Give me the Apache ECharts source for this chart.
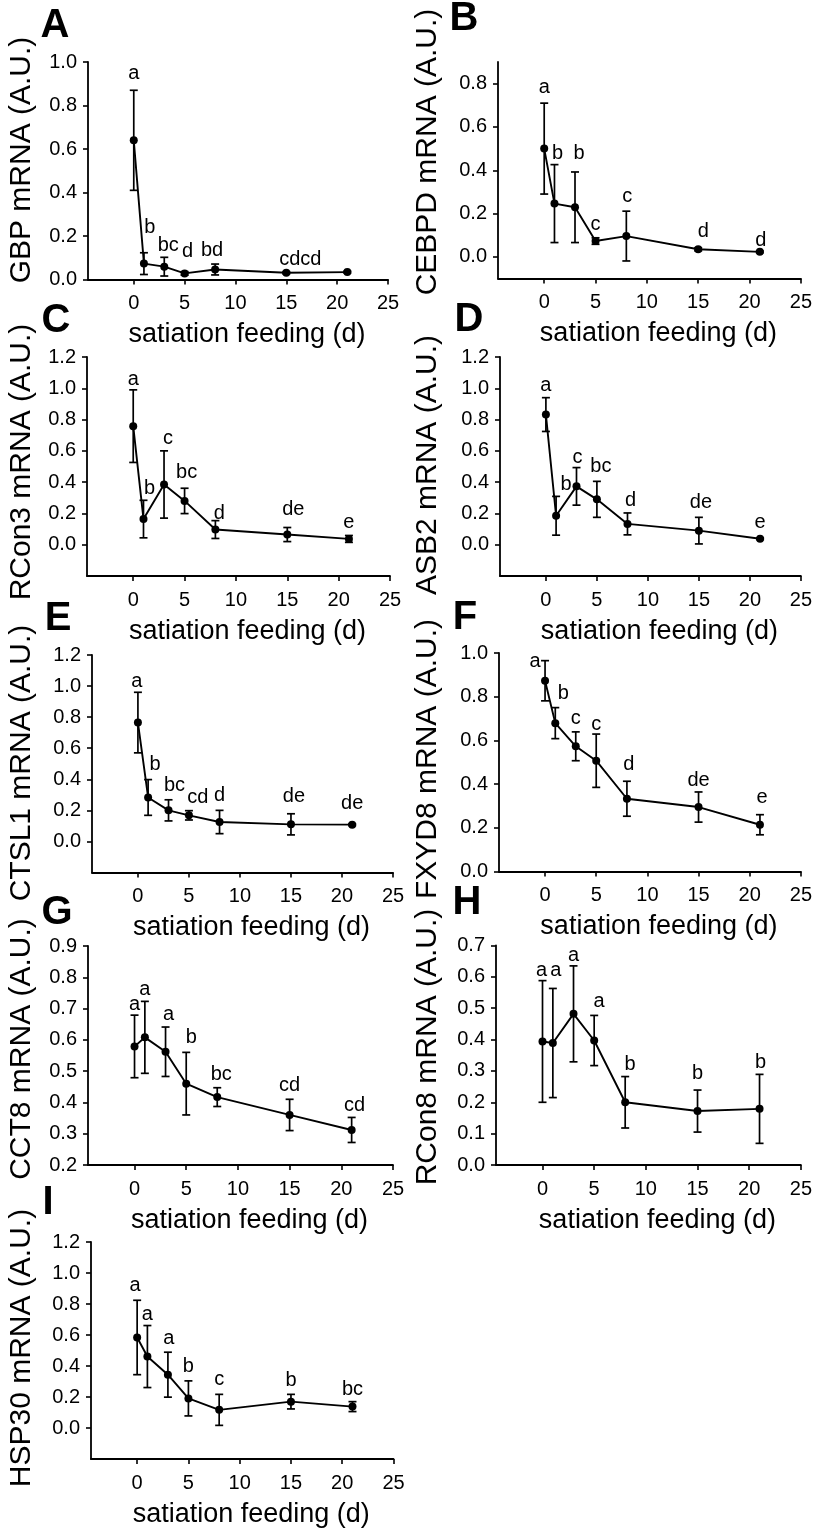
<!DOCTYPE html>
<html>
<head>
<meta charset="utf-8">
<script src="https://cdn.jsdelivr.net/npm/echarts@6/dist/echarts.min.js"></script>
<style>
  html, body { margin: 0; padding: 0; background: #fff; }
  #chart { width: 815px; height: 1529px; }
</style>
</head>
<body>
<div id="chart"></div>
<script>
// ---------------- data ----------------
const days = [0, 1, 3, 5, 8, 15, 21];
const xTicks = [0, 5, 10, 15, 20, 25];
const xTitle = 'satiation feeding (d)';

const gbpMean = [0.64, 0.073, 0.059, 0.028, 0.046, 0.031, 0.034];
const gbpErr  = [0.23, 0.05, 0.043, 0.008, 0.025, 0.005, 0.004];
const gbpSig  = ['a', 'b', 'bc', 'd', 'bd', 'cdcd', ''];

const cebpdMean = [0.50, 0.246, 0.229, 0.073, 0.096, 0.035, 0.023];
const cebpdErr  = [0.21, 0.18, 0.163, 0.015, 0.115, 0.007, 0.004];
const cebpdSig  = ['a', 'b', 'b', 'c', 'c', 'd', 'd'];

const rcon3Mean = [0.758, 0.164, 0.385, 0.28, 0.097, 0.065, 0.037];
const rcon3Err  = [0.232, 0.12, 0.215, 0.081, 0.057, 0.045, 0.022];
const rcon3Sig  = ['a', 'b', 'c', 'bc', 'd', 'de', 'e'];

const asb2Mean = [0.832, 0.185, 0.373, 0.29, 0.133, 0.09, 0.038];
const asb2Err  = [0.108, 0.124, 0.12, 0.115, 0.07, 0.085, 0.005];
const asb2Sig  = ['a', 'b', 'c', 'bc', 'd', 'de', 'e'];

const ctsl1Mean = [0.765, 0.283, 0.2, 0.168, 0.125, 0.11, 0.108];
const ctsl1Err  = [0.195, 0.115, 0.068, 0.03, 0.075, 0.068, 0.006];
const ctsl1Sig  = ['a', 'b', 'bc', 'cd', 'd', 'de', 'de'];

const fxyd8Mean = [0.873, 0.679, 0.573, 0.507, 0.333, 0.295, 0.214];
const fxyd8Err  = [0.092, 0.071, 0.066, 0.122, 0.08, 0.069, 0.046];
const fxyd8Sig  = ['a', 'b', 'c', 'c', 'd', 'de', 'e'];

const cct8Mean = [0.579, 0.608, 0.562, 0.46, 0.417, 0.36, 0.312];
const cct8Err  = [0.1, 0.115, 0.079, 0.1, 0.03, 0.05, 0.04];
const cct8Sig  = ['a', 'a', 'a', 'b', 'bc', 'cd', 'cd'];

const rcon8Mean = [0.394, 0.389, 0.482, 0.397, 0.2, 0.172, 0.179];
const rcon8Err  = [0.194, 0.174, 0.153, 0.08, 0.082, 0.067, 0.11];
const rcon8Sig  = ['a', 'a', 'a', 'a', 'b', 'b', 'b'];

const hsp30Mean = [0.584, 0.461, 0.344, 0.191, 0.117, 0.17, 0.138];
const hsp30Err  = [0.24, 0.2, 0.145, 0.113, 0.1, 0.047, 0.032];
const hsp30Sig  = ['a', 'a', 'a', 'b', 'c', 'b', 'bc'];

const yTicksA = [0, 0.2, 0.4, 0.6, 0.8, 1.0];
const yTicksB = [0, 0.2, 0.4, 0.6, 0.8];
const yTicks12 = [0, 0.2, 0.4, 0.6, 0.8, 1.0, 1.2];
const yTicksG = [0.2, 0.3, 0.4, 0.5, 0.6, 0.7, 0.8, 0.9];
const yTicksH = [0, 0.1, 0.2, 0.3, 0.4, 0.5, 0.6, 0.7];

// ---------------- layout / styling ----------------
const FONT = '"Liberation Sans", Arial, Helvetica, sans-serif';
const X_MIN = -4.5, X_MAX = 25;

// label nudges in px [dx, dy] relative to the default spot above the error bar
const panels = [
  { tag: 'A', yName: 'GBP mRNA (A.U.)', mean: gbpMean, err: gbpErr, sig: gbpSig, yMin: 0, yMax: 1.0, yTicks: yTicksA,
    grid: { left: 88, top: 62, width: 300, height: 217.5 }, tagPos: [55, 26], yNamePos: [22, 160],
    nudge: [[0, -6], [6, -14], [4, -1], [3, -9], [-3, -3], [14, -1], [0, 0]] },
  { tag: 'B', yName: 'CEBPD mRNA (A.U.)', mean: cebpdMean, err: cebpdErr, sig: cebpdSig, yMin: -0.1, yMax: 0.9, yTicks: yTicksB,
    grid: { left: 498, top: 62, width: 303, height: 216.5 }, tagPos: [464, 19], yNamePos: [428, 152],
    nudge: [[0, -5], [3, 0], [4, -7], [0, -2], [1, -4], [5, -5], [1, 0]] },
  { tag: 'C', yName: 'RCon3 mRNA (A.U.)', mean: rcon3Mean, err: rcon3Err, sig: rcon3Sig, yMin: -0.2, yMax: 1.2, yTicks: yTicks12,
    grid: { left: 87, top: 357, width: 303, height: 219 }, tagPos: [56, 321], yNamePos: [22, 462],
    nudge: [[0, 1], [6, -1], [4, -1], [2, -5], [4, 4], [6, -7], [0, -2]] },
  { tag: 'D', yName: 'ASB2 mRNA (A.U.)', mean: asb2Mean, err: asb2Err, sig: asb2Sig, yMin: -0.2, yMax: 1.2, yTicks: yTicks12,
    grid: { left: 500, top: 357, width: 303, height: 219 }, tagPos: [469, 320], yNamePos: [428, 465],
    nudge: [[0, -1], [10, -1], [1, 1], [4, -4], [3, -1], [2, -4], [0, -5]] },
  { tag: 'E', yName: 'CTSL1 mRNA (A.U.)', mean: ctsl1Mean, err: ctsl1Err, sig: ctsl1Sig, yMin: -0.2, yMax: 1.2, yTicks: yTicks12,
    grid: { left: 92, top: 655, width: 301, height: 217.5 }, tagPos: [58, 619], yNamePos: [22, 763],
    nudge: [[-1, 0], [7, -4], [6, -3], [9, -2], [0, -4], [3, -6], [0, -9]] },
  { tag: 'F', yName: 'FXYD8 mRNA (A.U.)', mean: fxyd8Mean, err: fxyd8Err, sig: fxyd8Sig, yMin: 0, yMax: 1.0, yTicks: yTicksA,
    grid: { left: 499, top: 653, width: 304, height: 218.5 }, tagPos: [465, 618], yNamePos: [428, 759],
    nudge: [[-10, 12], [8, -3], [0, -2], [0, 1], [2, -6], [0, 0], [2, -6]] },
  { tag: 'G', yName: 'CCT8 mRNA (A.U.)', mean: cct8Mean, err: cct8Err, sig: cct8Sig, yMin: 0.2, yMax: 0.9, yTicks: yTicksG,
    grid: { left: 88, top: 946, width: 305, height: 219 }, tagPos: [57, 913], yNamePos: [22, 1049],
    nudge: [[0, 0], [0, -1], [3, -2], [5, -4], [4, -2], [0, -3], [3, -1]] },
  { tag: 'H', yName: 'RCon8 mRNA (A.U.)', mean: rcon8Mean, err: rcon8Err, sig: rcon8Sig, yMin: 0, yMax: 0.7, yTicks: yTicksH,
    grid: { left: 496, top: 945.5, width: 305, height: 219.5 }, tagPos: [467, 903], yNamePos: [428, 1047],
    nudge: [[-1, 1], [3, -7], [0, 1], [5, -3], [5, -1], [0, -6], [1, -1]] },
  { tag: 'I', yName: 'HSP30 mRNA (A.U.)', mean: hsp30Mean, err: hsp30Err, sig: hsp30Sig, yMin: -0.2, yMax: 1.2, yTicks: yTicks12,
    grid: { left: 91, top: 1242, width: 302.5, height: 218.7 }, tagPos: [48, 1203], yNamePos: [22, 1348],
    nudge: [[-2, -4], [0, 0], [1, -3], [0, -3], [0, -4], [0, -3], [0, -1]] }
];

const grids = [], xAxes = [], yAxes = [], series = [], graphics = [];

panels.forEach((p, i) => {
  grids.push(Object.assign({ containLabel: false }, p.grid));
  xAxes.push({
    type: 'value', gridIndex: i, min: X_MIN, max: X_MAX,
    name: xTitle, nameLocation: 'middle', nameGap: 42,
    nameTextStyle: { fontFamily: FONT, fontSize: 27, color: '#000', padding: [0, 0, 0, 18] },
    axisLine: { show: true, onZero: false, lineStyle: { color: '#000', width: 1.8 } },
    axisTick: { show: true, inside: false, length: 5, customValues: xTicks, lineStyle: { color: '#000', width: 1.6 } },
    axisLabel: { show: true, customValues: xTicks, margin: 14, fontFamily: FONT, fontSize: 20, color: '#000' },
    splitLine: { show: false }
  });
  yAxes.push({
    type: 'value', gridIndex: i, min: p.yMin, max: p.yMax,
    axisLine: { show: true, onZero: false, lineStyle: { color: '#000', width: 1.8 } },
    axisTick: { show: true, inside: false, length: 5, customValues: p.yTicks, lineStyle: { color: '#000', width: 1.6 } },
    axisLabel: { show: true, customValues: p.yTicks, margin: 11, fontFamily: FONT, fontSize: 20, color: '#000',
      formatter: v => v.toFixed(1) },
    splitLine: { show: false }
  });

  // error bars + significance letters
  series.push({
    type: 'custom', xAxisIndex: i, yAxisIndex: i, clip: false, z: 2,
    data: days.map((d, k) => [d, p.mean[k], p.err[k], k]),
    renderItem: (params, api) => {
      const x = api.value(0), m = api.value(1), e = api.value(2), k = api.value(3);
      const top = api.coord([x, m + e]);
      const bot = api.coord([x, m - e]);
      const cw = 4;
      const st = { stroke: '#000', lineWidth: 1.7 };
      const children = [
        { type: 'line', shape: { x1: top[0], y1: top[1], x2: bot[0], y2: bot[1] }, style: st },
        { type: 'line', shape: { x1: top[0] - cw, y1: top[1], x2: top[0] + cw, y2: top[1] }, style: st },
        { type: 'line', shape: { x1: bot[0] - cw, y1: bot[1], x2: bot[0] + cw, y2: bot[1] }, style: st }
      ];
      const s = p.sig[k];
      if (s) {
        const n = p.nudge[k] || [0, 0];
        children.push({
          type: 'text',
          style: { text: s, x: top[0] + n[0], y: top[1] - 1 + n[1], align: 'center', verticalAlign: 'bottom',
            fontFamily: FONT, fontSize: 20, fill: '#000' }
        });
      }
      return { type: 'group', children };
    }
  });

  // mean line with markers
  series.push({
    type: 'line', xAxisIndex: i, yAxisIndex: i, z: 3,
    data: days.map((d, k) => [d, p.mean[k]]),
    symbol: 'circle', symbolSize: 8,
    lineStyle: { color: '#000', width: 1.9 },
    itemStyle: { color: '#000' },
    label: { show: false }
  });

  // panel tag
  graphics.push({
    type: 'text', x: p.tagPos[0], y: p.tagPos[1],
    style: { text: p.tag, align: 'center', verticalAlign: 'middle', fontFamily: FONT, fontWeight: 'bold', fontSize: 40, fill: '#000' }
  });
  // y axis title
  graphics.push({
    type: 'text', x: p.yNamePos[0], y: p.yNamePos[1], rotation: Math.PI / 2,
    style: { text: p.yName, align: 'center', verticalAlign: 'middle', fontFamily: FONT, fontSize: 30, fill: '#000' }
  });
});

const chart = echarts.init(document.getElementById('chart'), null, { renderer: 'canvas' });
chart.setOption({
  animation: false,
  backgroundColor: '#fff',
  grid: grids,
  xAxis: xAxes,
  yAxis: yAxes,
  series: series,
  graphic: graphics
});
</script>
</body>
</html>
